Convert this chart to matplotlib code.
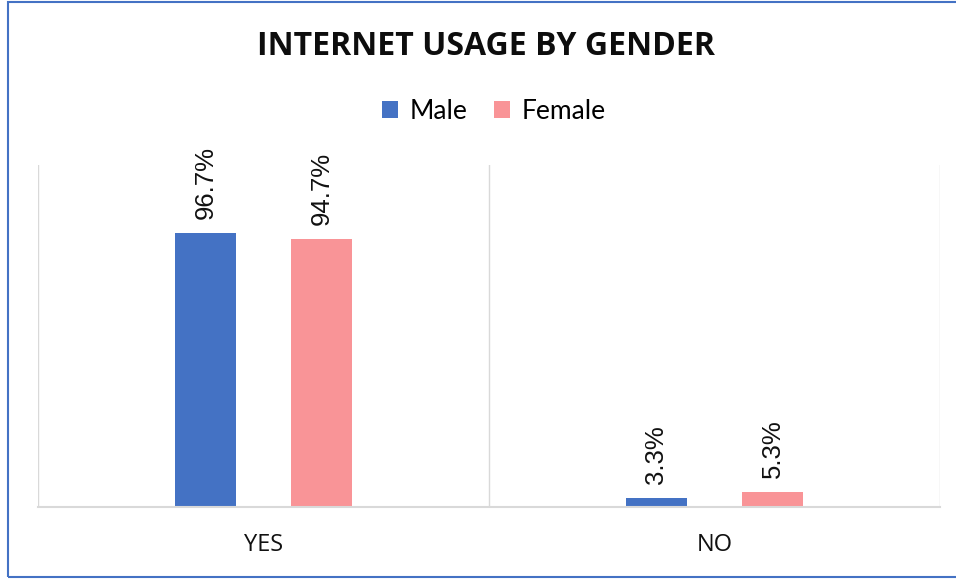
import numpy as np
import matplotlib.pyplot as plt
from matplotlib.patches import Rectangle

# Datos
categorias = ['YES', 'NO']
male = [96.7, 3.3]
female = [94.7, 5.3]
series = ['Male', 'Female']
colores = ['#4472C4', '#F99497']

fig = plt.figure(figsize=(9.56, 5.79), dpi=100)
ax = fig.add_axes([0.0397, 0.1244, 0.9435, 0.5906])

x = np.arange(len(categorias))
ancho = 0.135
desp = 0.1286
b1 = ax.bar(x - desp, male, ancho, color=colores[0], label=series[0])
b2 = ax.bar(x + desp, female, ancho, color=colores[1], label=series[1])

# Etiquetas de datos
for barras, valores in [(b1, male), (b2, female)]:
    for b, v in zip(barras, valores):
        ax.annotate(f"{v}%", (b.get_x() + b.get_width() / 2, v),
                    xytext=(0, 10), textcoords='offset points',
                    rotation=90, ha='center', va='bottom',
                    fontsize=18.5, family='Liberation Sans', color='#111111')

ax.set_xlim(-0.5, 1.5)
ax.set_ylim(0, 120.7)
ax.set_yticks([])
ax.set_xticks(x)
ax.set_xticklabels(categorias, family='Open Sans', fontsize=17, color='#111111')
ax.tick_params(axis='x', length=0, pad=19)
for s in ['top', 'right', 'left']:
    ax.spines[s].set_visible(False)
ax.spines['bottom'].set_color('#D9D9D9')
ax.spines['bottom'].set_linewidth(1.5)
for g in [-0.5, 0.5, 1.5]:
    ax.axvline(g, color='#D9D9D9', linewidth=1, zorder=0)

fig.text(0.508, 0.92, 'INTERNET USAGE BY GENDER', ha='center', va='center',
         fontsize=23, fontweight='bold', family='Open Sans', color='#0D0D0D')

fig.legend(handles=[b1, b2], labels=series, loc='center', ncol=2,
           bbox_to_anchor=(0.517, 0.808), frameon=False,
           prop={'family': 'Lato', 'size': 19},
           handlelength=0.6, handleheight=0.6, handletextpad=0.45,
           columnspacing=1.0)

# Borde del gráfico
fig.patches.append(Rectangle((0.0085, 0.003), 1.2, 0.993, transform=fig.transFigure,
                             fill=False, edgecolor='#4472C4', linewidth=1.5))

fig.savefig('out.png', dpi=100)
